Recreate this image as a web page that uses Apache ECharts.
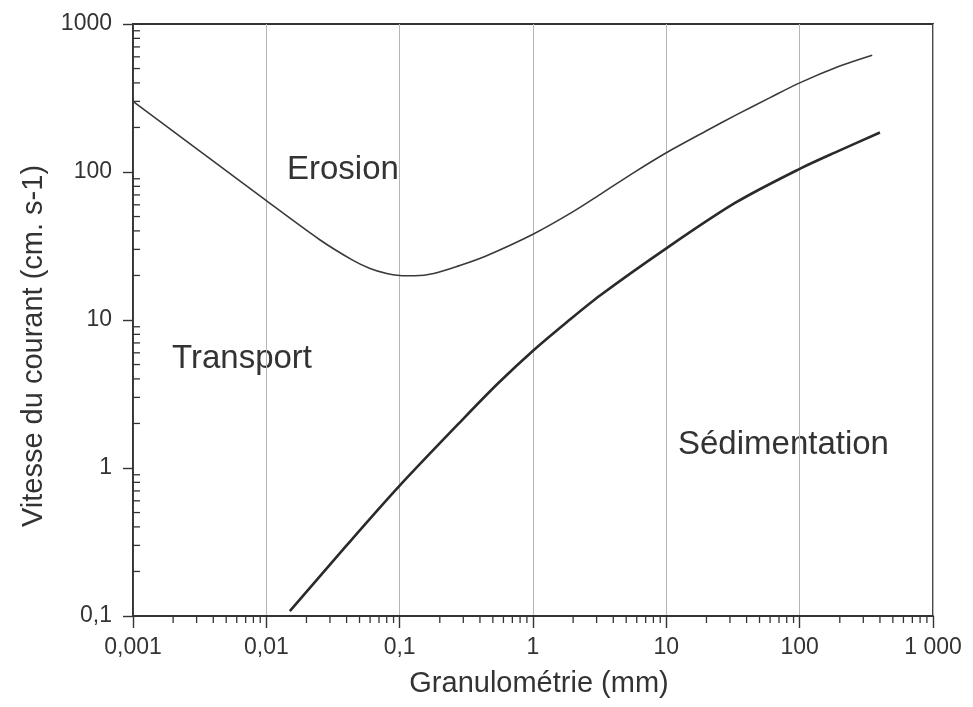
<!DOCTYPE html>
<html>
<head>
<meta charset="utf-8">
<script src="https://cdn.jsdelivr.net/npm/echarts@6/dist/echarts.min.js"></script>
<style>
html,body{margin:0;padding:0;background:#fff;}
#chart{width:973px;height:707px;}
</style>
</head>
<body>
<div id="chart"></div>
<script>
// ---- Data ----
const erosionX = [0.001, 0.01, 0.025, 0.044, 0.06, 0.08, 0.1, 0.13, 0.18, 0.28, 0.44, 1, 2, 3.3, 5.9, 10, 20, 34, 60, 100, 200, 350];
const erosionY = [300, 64, 35, 25.5, 22.3, 20.6, 20.0, 19.9, 20.6, 23.3, 27, 38, 54, 72, 101, 135, 190, 245, 318, 400, 520, 616];

const sedimentX = [0.015, 0.04, 0.1, 0.3, 0.55, 1, 1.8, 3.2, 10, 33, 100, 200, 400];
const sedimentY = [0.108, 0.3, 0.76, 2.15, 3.75, 6.2, 9.7, 14.7, 30.5, 62, 105, 140, 185];

const xTickLabels = ['0,001', '0,01', '0,1', '1', '10', '100', '1 000'];
const yTickLabels = ['0,1', '1', '10', '100', '1000'];

const xDecades = [0.001, 0.01, 0.1, 1, 10, 100];
const yDecades = [0.1, 1, 10, 100];
const minorMultipliers = [2, 3, 4, 5, 6, 7, 8, 9];

const xMin = 0.001, xMax = 1000, yMin = 0.1, yMax = 1000;

const regionLabels = ['Erosion', 'Transport', 'Sédimentation'];
const xTitle = 'Granulométrie (mm)';
const yTitle = 'Vitesse du courant (cm. s-1)';

// ---- Build ----
const FONT = "'Liberation Sans', Arial, sans-serif";
const INK = '#333';

const minorX = [];
xDecades.forEach(d => minorMultipliers.forEach(m => minorX.push([+(d * m).toPrecision(3), yMin])));
const minorY = [];
yDecades.forEach(d => minorMultipliers.forEach(m => minorY.push([xMin, +(d * m).toPrecision(3)])));

function expIndex(v) { return Math.round(Math.log10(v)); }

const chart = echarts.init(document.getElementById('chart'), null, {renderer: 'canvas'});
chart.setOption({
  animation: false,
  backgroundColor: '#fff',
  grid: {left: 133, top: 24, width: 800, height: 592, show: true, borderColor: INK, borderWidth: 1.8, backgroundColor: 'transparent'},
  xAxis: {
    type: 'log', logBase: 10, min: xMin, max: xMax, splitNumber: 6,
    axisLine: {show: true, lineStyle: {color: INK, width: 1.8}},
    axisTick: {show: true, length: 12, lineStyle: {color: INK, width: 1.4}},
    axisLabel: {margin: 20, fontSize: 23, color: INK, fontFamily: FONT,
      formatter: v => xTickLabels[expIndex(v) + 3]},
    splitLine: {show: true, lineStyle: {color: '#b5b5b5', width: 1}}
  },
  yAxis: {
    type: 'log', logBase: 10, min: yMin, max: yMax, splitNumber: 4,
    axisLine: {show: true, lineStyle: {color: INK, width: 1.8}},
    axisTick: {show: true, length: 10, lineStyle: {color: INK, width: 1.4}},
    axisLabel: {margin: 21, fontSize: 23, color: INK, fontFamily: FONT,
      formatter: v => yTickLabels[expIndex(v) + 1]},
    splitLine: {show: false}
  },
  series: [
    {
      name: 'Erosion', type: 'line', data: erosionX.map((x, i) => [x, erosionY[i]]),
      showSymbol: false, smooth: 0.3, silent: true,
      lineStyle: {color: '#3a3a3a', width: 1.6}
    },
    {
      name: 'Sédimentation', type: 'line', data: sedimentX.map((x, i) => [x, sedimentY[i]]),
      showSymbol: false, smooth: 0.3, silent: true,
      lineStyle: {color: '#2a2a2a', width: 2.6}
    },
    {
      name: 'minorX', type: 'custom', clip: false, silent: true, data: minorX,
      renderItem: (params, api) => {
        const p = api.coord([api.value(0), api.value(1)]);
        return {type: 'line', shape: {x1: p[0], y1: p[1], x2: p[0], y2: p[1] + 7},
          style: {stroke: INK, lineWidth: 1.3}};
      }
    },
    {
      name: 'minorY', type: 'custom', clip: false, silent: true, data: minorY,
      renderItem: (params, api) => {
        const p = api.coord([api.value(0), api.value(1)]);
        return {type: 'line', shape: {x1: p[0], y1: p[1], x2: p[0] + 7, y2: p[1]},
          style: {stroke: INK, lineWidth: 1.3}};
      }
    }
  ],
  graphic: [
    {type: 'text', left: 287, top: 153, style: {text: regionLabels[0], font: '33px ' + FONT, fill: INK}},
    {type: 'text', left: 172, top: 342, style: {text: regionLabels[1], font: '33px ' + FONT, fill: INK}},
    {type: 'text', left: 678, top: 428, style: {text: regionLabels[2], font: '33px ' + FONT, fill: INK}},
    {type: 'text', x: 539, y: 684, style: {text: xTitle, font: '29px ' + FONT, fill: INK, textAlign: 'center', textVerticalAlign: 'middle'}},
    {type: 'text', x: 34, y: 346, rotation: Math.PI / 2, style: {text: yTitle, font: '29px ' + FONT, fill: INK, textAlign: 'center', textVerticalAlign: 'middle'}}
  ]
});
</script>
</body>
</html>
